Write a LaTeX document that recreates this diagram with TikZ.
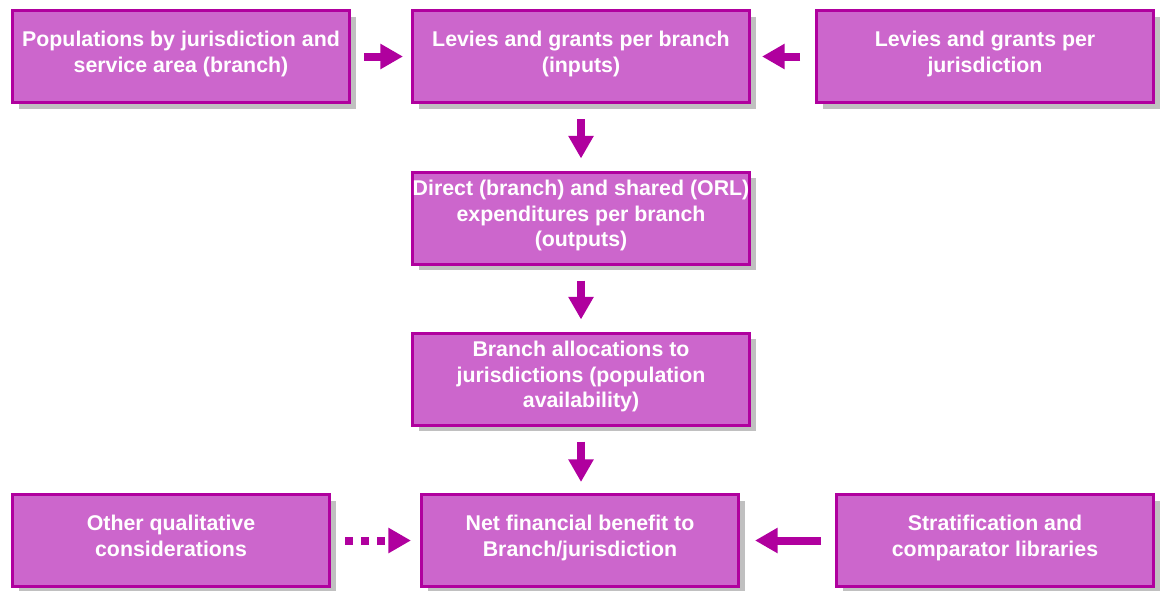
\documentclass[tikz,border=0pt]{standalone}
\usepackage{fontspec}
\setmainfont{Liberation Sans}
\usetikzlibrary{arrows.meta,positioning,shadows}
\definecolor{boxfill}{HTML}{CC66CC}
\definecolor{boxline}{HTML}{B0009E}
\definecolor{shadowgray}{HTML}{C0C0C0}

\begin{document}
\begin{tikzpicture}[x=0.75pt,y=-0.75pt,
  box/.style={draw=boxline, line width=2.25pt, fill=boxfill, text=white,
              font=\bfseries\fontsize{16}{19.2}\selectfont, align=center,
              minimum width=252.75pt, minimum height=69pt,
              inner xsep=0pt, inner ysep=2pt, text depth=7pt,
              drop shadow={shadow xshift=4.5pt, shadow yshift=-4.5pt,
                           fill=shadowgray, opacity=1}},
  sidebox/.style={box, minimum width=237.75pt},
  flow/.style={draw=boxline, line width=6pt,
               -{Triangle[length=17pt,width=18pt]}},
  dotflow/.style={flow, dash pattern=on 6pt off 6pt}
]
\useasboundingbox (0,0) rectangle (1162,590);
% Top row
\node[box] (pop) at (181,56.5) {Populations by jurisdiction and\\service area (branch)};
\node[box] (levbranch) at (581,56.5) {Levies and grants per branch\\(inputs)};
\node[box] (levjur) at (985,56.5) {Levies and grants per\\jurisdiction};
% Middle column
\node[box] (expend) at (581,218) {Direct (branch) and shared (ORL)\\expenditures per branch\\(outputs)};
\node[box] (alloc) at (581,379) {Branch allocations to\\jurisdictions (population\\availability)};
% Bottom row
\node[sidebox] (other) at (171,540.5) {Other qualitative\\considerations};
\node[sidebox] (benefit) at (580,540.5) {Net financial benefit to\\Branch/jurisdiction};
\node[sidebox] (strat) at (995,540.5) {Stratification and\\comparator libraries};
% Arrows
\draw[flow, shorten <=9.75pt, shorten >=6pt] (pop) -- (levbranch);
\draw[flow, shorten <=11.25pt, shorten >=8.25pt] (levjur) -- (levbranch);
\draw[flow, shorten <=11.25pt, shorten >=9pt] (levbranch) -- (expend);
\draw[flow, shorten <=11.25pt, shorten >=9pt] (expend) -- (alloc);
\draw[flow, shorten <=11.25pt, shorten >=8.25pt] (alloc) -- (benefit.north -| alloc);
\draw[dotflow, shorten <=10.5pt, shorten >=6.75pt] (other) -- (benefit);
\draw[flow, shorten <=10.5pt, shorten >=11.25pt] (strat) -- (benefit);
\end{tikzpicture}
\end{document}
